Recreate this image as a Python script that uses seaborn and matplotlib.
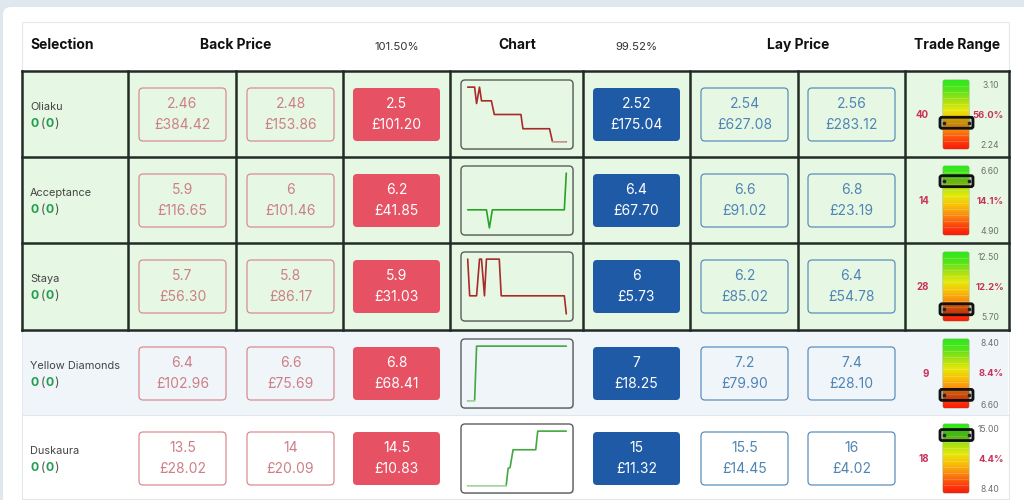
import matplotlib
matplotlib.use("Agg")
import matplotlib.pyplot as plt
from matplotlib.patches import FancyBboxPatch, Rectangle
from matplotlib.colors import LinearSegmentedColormap
import numpy as np
import pandas as pd
import seaborn as sns

names = ["Oliaku", "Acceptance", "Staya", "Yellow Diamonds", "Duskaura"]
back_far = [("2.46", "£384.42"), ("5.9", "£116.65"), ("5.7", "£56.30"), ("6.4", "£102.96"), ("13.5", "£28.02")]
back_mid = [("2.48", "£153.86"), ("6", "£101.46"), ("5.8", "£86.17"), ("6.6", "£75.69"), ("14", "£20.09")]
back_best = [("2.5", "£101.20"), ("6.2", "£41.85"), ("5.9", "£31.03"), ("6.8", "£68.41"), ("14.5", "£10.83")]
lay_best = [("2.52", "£175.04"), ("6.4", "£67.70"), ("6", "£5.73"), ("7", "£18.25"), ("15", "£11.32")]
lay_mid = [("2.54", "£627.08"), ("6.6", "£91.02"), ("6.2", "£85.02"), ("7.2", "£79.90"), ("15.5", "£14.45")]
lay_far = [("2.56", "£283.12"), ("6.8", "£23.19"), ("6.4", "£54.78"), ("7.4", "£28.10"), ("16", "£4.02")]
range_high = ["3.10", "6.60", "12.50", "8.40", "15.00"]
range_low = ["2.24", "4.90", "5.70", "6.60", "8.40"]
trades = ["40", "14", "28", "9", "18"]
traded_pct = ["56.0%", "14.1%", "12.2%", "8.4%", "4.4%"]
marker_pos = [0.62, 0.22, 0.83, 0.81, 0.16]
spark_x = [
    [0, 7, 9, 12, 14, 24, 27, 54, 56, 83, 86, 100],
    [0, 19, 22, 25, 98, 100],
    [0, 2, 9, 12, 14, 17, 19, 32, 34, 98, 100],
    [0, 7, 9, 100],
    [0, 39, 41, 43, 46, 69, 71, 100],
]
spark_y = [
    [100, 100, 70, 100, 75, 75, 50, 50, 24, 24, 0, 0],
    [33, 33, 0, 33, 33, 100],
    [100, 33, 33, 100, 100, 33, 100, 100, 33, 33, 0],
    [0, 0, 100, 100],
    [0, 0, 32, 33.5, 66, 66, 100, 100],
]
spark_colors = ["#a82a2a", "#27a327", "#a82a2a", "#43a843", "#43a843"]
spark_faded = [(10, 11), None, None, (0, 1), (0, 1)]

sns.set_theme(style="white")
plt.rcParams["font.family"] = ["Inter", "DejaVu Sans"]

fig = plt.figure(figsize=(10.24, 5), dpi=100, facecolor="#dfe8ef")
ax = fig.add_axes([0, 0, 1, 1])
ax.set_axis_off()


def rbox(x, y, w, h, r, fc="none", ec="none", lw=1.0, z=3):
    p = FancyBboxPatch((x, y), w, h, boxstyle=f"round,pad=0,rounding_size={r}",
                       fc=fc, ec=ec, lw=lw, zorder=z, mutation_aspect=1)
    ax.add_patch(p)
    return p


rbox(3, 7, 1060, 600, 8, fc="white", z=0)
ax.add_patch(Rectangle((22, 22), 987, 477, fc="white", ec="#e3e8ee", lw=0.8, zorder=1))

row_top = [71, 157, 243, 330, 415]
row_bot = [157, 243, 330, 415, 500]
row_bg = ["#e6f8e3", "#e6f8e3", "#e6f8e3", "#f0f5fa", "#ffffff"]
for t, b, c in zip(row_top, row_bot, row_bg):
    ax.add_patch(Rectangle((23, t), 985, b - t, fc=c, ec="none", zorder=1))
for y in [415, 499]:
    ax.plot([22, 1009], [y, y], color="#dfe6ee", lw=0.8, zorder=2)
ink = "#232b26"
for y in [71, 157, 243, 330]:
    ax.plot([22, 1009], [y, y], color=ink, lw=1.8, zorder=2, solid_capstyle="projecting")
for x in [22, 128, 236, 343, 450, 583, 690, 798, 905, 1009]:
    ax.plot([x, x], [71, 330], color=ink, lw=1.8, zorder=2, solid_capstyle="projecting")

hdr = dict(fontsize=10, fontweight="bold", color="#111111", va="center", zorder=5)
ax.text(30, 45, "Selection", ha="left", **hdr)
ax.text(236, 45, "Back Price", ha="center", **hdr)
ax.text(517, 45, "Chart", ha="center", **hdr)
ax.text(798, 45, "Lay Price", ha="center", **hdr)
ax.text(957, 45, "Trade Range", ha="center", **hdr)
ax.text(396.5, 47, "101.50%", ha="center", va="center", fontsize=8.2, color="#333333", zorder=5)
ax.text(636.5, 47, "99.52%", ha="center", va="center", fontsize=8.2, color="#333333", zorder=5)

columns = [
    (139, back_far, "outline", "#d98c90", "#cc7f85"),
    (247, back_mid, "outline", "#d98c90", "#cc7f85"),
    (353, back_best, "fill", "#e65263", "#ffffff"),
    (593, lay_best, "fill", "#1f5aa6", "#ffffff"),
    (701, lay_mid, "outline", "#5b8fbd", "#4f84b5"),
    (808, lay_far, "outline", "#5b8fbd", "#4f84b5"),
]
for left, col, kind, main, txt in columns:
    for i, (price, size) in enumerate(col):
        t = row_top[i]
        w = 87
        if kind == "fill":
            rbox(left, t + 17, w, 53, 4, fc=main, z=3)
        else:
            rbox(left, t + 17, w, 53, 4, ec=main, lw=0.9, z=3)
        ax.text(left + w / 2, t + 33, price, ha="center", va="center", fontsize=10, color=txt, zorder=5)
        ax.text(left + w / 2, t + 54, size, ha="center", va="center", fontsize=10, color=txt, zorder=5)

for i, name in enumerate(names):
    t = row_top[i]
    ax.text(30, t + 36, name, ha="left", va="center", fontsize=7.9, color="#444444", zorder=5)
    y = t + 53
    ax.text(30.5, y, "0", ha="left", va="center", fontsize=8.8, fontweight="bold", color="#1f9d4d", zorder=5)
    ax.text(41, y, "(", ha="left", va="center", fontsize=8.8, color="#555555", zorder=5)
    ax.text(45.5, y, "0", ha="left", va="center", fontsize=8.8, fontweight="bold", color="#1f9d4d", zorder=5)
    ax.text(54.5, y, ")", ha="left", va="center", fontsize=8.8, color="#555555", zorder=5)

grad = LinearSegmentedColormap.from_list(
    "range", ["#2fe81e", "#55e41a", "#a4e012", "#e4e80a", "#f8c006", "#fb8c10", "#fb4a0c", "#fb1a0c"])
bands = np.linspace(0, 1, 120).reshape(-1, 1)
crimson = "#c9305a"
for i in range(5):
    t = row_top[i]
    gx, gy, gw, gh = 943, t + 9, 26, 69
    clip = rbox(gx, gy, gw, gh, 2, ec="#7a9a5a", lw=0.5, z=3)
    im = ax.imshow(bands, cmap=grad, extent=(gx, gx + gw, gy + gh, gy), aspect="auto",
                   interpolation="bilinear", zorder=3, origin="upper")
    im.set_clip_path(clip)
    for f in np.arange(0.08, 0.98, 0.09):
        ax.plot([gx + 1, gx + gw - 1], [gy + f * gh] * 2, color="white", alpha=0.22, lw=0.6, zorder=3)
    my = gy + marker_pos[i] * gh
    rbox(940, my - 5.5, 33, 11, 2, fc="#00000030", ec="#111111", lw=2.0, z=4)
    ax.plot([944, 969], [my, my], ls="none", marker="o", ms=1.6, color="#222222", zorder=4)
    ax.text(999, t + 14, range_high[i], ha="right", va="center", fontsize=6.2, color="#707070", zorder=5)
    ax.text(999, t + 75, range_low[i], ha="right", va="center", fontsize=6.2, color="#707070", zorder=5)
    ax.text(929, t + 44, trades[i], ha="right", va="center", fontsize=7, fontweight="bold", color=crimson, zorder=5)
    ax.text(1004, t + 44, traded_pct[i], ha="right", va="center", fontsize=6.8, fontweight="bold", color=crimson, zorder=5)

ax.set_xlim(0, 1024)
ax.set_ylim(500, 0)

for i in range(5):
    t = row_top[i]
    bx, by, bw, bh = 461, t + 9, 112, 69
    rbox(bx + 1, by + 1, bw, bh, 4, fc="#00000022", z=2)
    rbox(bx, by, bw, bh, 4, fc=row_bg[i], ec="#5a5f5c", lw=1.0, z=3)
    inset = fig.add_axes([bx / 1024, 1 - (by + bh) / 500, bw / 1024, bh / 500], facecolor="none")
    df = pd.DataFrame({"t": spark_x[i], "v": spark_y[i]})
    sns.lineplot(data=df, x="t", y="v", color=spark_colors[i], lw=1.2, ax=inset,
                 estimator=None, sort=False, legend=False)
    if spark_faded[i] is not None:
        a, b = spark_faded[i]
        sns.lineplot(data=df.iloc[a:b + 1], x="t", y="v", color=row_bg[i], lw=1.3, alpha=0.55,
                     ax=inset, estimator=None, sort=False, legend=False)
    inset.set_xlim(-6.8, 106.8)
    inset.set_ylim(-13, 113)
    inset.set_axis_off()

fig.savefig("out.png", dpi=100, facecolor=fig.get_facecolor())
